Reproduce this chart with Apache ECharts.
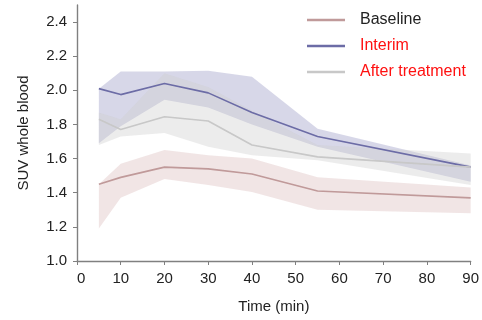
<!DOCTYPE html>
<html>
<head>
<meta charset="utf-8">
<script src="https://cdn.jsdelivr.net/npm/echarts@6/dist/echarts.min.js"></script>
<style>
  html, body { margin: 0; padding: 0; background: #fff; }
  #main { width: 482px; height: 320px; }
</style>
</head>
<body>
<div id="main"></div>
<script>
const times = [5, 10, 20, 30, 40, 55, 90];

const baselineMean = [1.45, 1.49, 1.55, 1.54, 1.51, 1.41, 1.37];
const baselineLow  = [1.19, 1.37, 1.48, 1.445, 1.405, 1.30, 1.28];
const baselineHigh = [1.45, 1.57, 1.65, 1.62, 1.60, 1.49, 1.43];

const interimMean = [2.01, 1.975, 2.04, 1.985, 1.87, 1.73, 1.55];
const interimLow  = [1.69, 1.79, 1.945, 1.90, 1.80, 1.67, 1.465];
const interimHigh = [2.01, 2.11, 2.11, 2.115, 2.08, 1.775, 1.56];

const afterMean = [1.83, 1.77, 1.845, 1.82, 1.68, 1.61, 1.55];
const afterLow  = [1.68, 1.73, 1.75, 1.67, 1.62, 1.59, 1.445];
const afterHigh = [1.87, 1.83, 2.10, 2.02, 1.88, 1.68, 1.63];

const yTicks = [1.0, 1.2, 1.4, 1.6, 1.8, 2.0, 2.2, 2.4];

const chart = echarts.init(document.getElementById('main'));

function pairs(vals) {
  return times.map((t, i) => [t, vals[i]]);
}

// shaded range drawn as one polygon: upper edge then lower edge back
function band(name, low, high, fill) {
  return {
    name: name + ' band', type: 'custom', silent: true,
    data: times.map((t, i) => [t, low[i], high[i]]),
    encode: { x: 0, y: [1, 2] },
    renderItem: function (params, api) {
      if (params.dataIndex !== 0) return null;
      const pts = [];
      times.forEach((t, i) => pts.push(api.coord([t, high[i]])));
      for (let i = times.length - 1; i >= 0; i--) pts.push(api.coord([times[i], low[i]]));
      return {
        type: 'polygon',
        shape: { points: pts },
        style: { fill: fill, stroke: 'none' }
      };
    }
  };
}

function meanLine(name, vals, color) {
  return {
    name: name, type: 'line', data: pairs(vals), symbol: 'none',
    lineStyle: { color: color, width: 1.6 }, itemStyle: { color: color }
  };
}

const font = 'Liberation Sans';

const option = {
  animation: false,
  grid: { left: 77, right: 11, top: 5, bottom: 59 },
  legend: {
    left: 302, top: 7, orient: 'vertical', itemGap: 10,
    icon: 'rect', itemWidth: 38, itemHeight: 2.5,
    textStyle: { fontFamily: font, fontSize: 16, padding: [0, 0, 0, 10] },
    data: [
      { name: 'Baseline', textStyle: { color: '#222' } },
      { name: 'Interim', textStyle: { color: '#ff1010' } },
      { name: 'After treatment', textStyle: { color: '#ff1010' } }
    ]
  },
  xAxis: {
    type: 'value', min: 0, max: 90, interval: 10,
    name: 'Time (min)', nameLocation: 'middle', nameGap: 38,
    nameTextStyle: { fontFamily: font, fontSize: 15, color: '#222' },
    axisLine: { lineStyle: { color: '#808080', width: 1.4 } },
    axisTick: { lineStyle: { color: '#808080' }, length: 4 },
    axisLabel: { fontFamily: font, fontSize: 15, color: '#222', margin: 10, alignMinLabel: 'left' },
    splitLine: { show: false }
  },
  yAxis: {
    type: 'value', min: 1.0, max: 2.5, interval: 0.2,
    name: 'SUV whole blood', nameLocation: 'middle', nameGap: 46, nameRotate: 90,
    nameTextStyle: { fontFamily: font, fontSize: 15, color: '#222' },
    axisLine: { show: true, lineStyle: { color: '#808080', width: 1.4 } },
    axisTick: { show: true, lineStyle: { color: '#808080' }, length: 4 },
    axisLabel: {
      fontFamily: font, fontSize: 15, color: '#222', margin: 10,
      showMaxLabel: false,
      formatter: v => yTicks.some(t => Math.abs(t - v) < 1e-6) ? v.toFixed(1) : ''
    },
    splitLine: { show: false }
  },
  series: [
    band('baseline', baselineLow, baselineHigh, 'rgba(205,160,160,0.28)'),
    band('interim', interimLow, interimHigh, 'rgba(130,130,185,0.32)'),
    band('after', afterLow, afterHigh, 'rgba(205,205,205,0.38)'),
    meanLine('Baseline', baselineMean, '#c09a9a'),
    meanLine('Interim', interimMean, '#6c6ca6'),
    meanLine('After treatment', afterMean, '#c8c8c8')
  ]
};

chart.setOption(option);
</script>
</body>
</html>
